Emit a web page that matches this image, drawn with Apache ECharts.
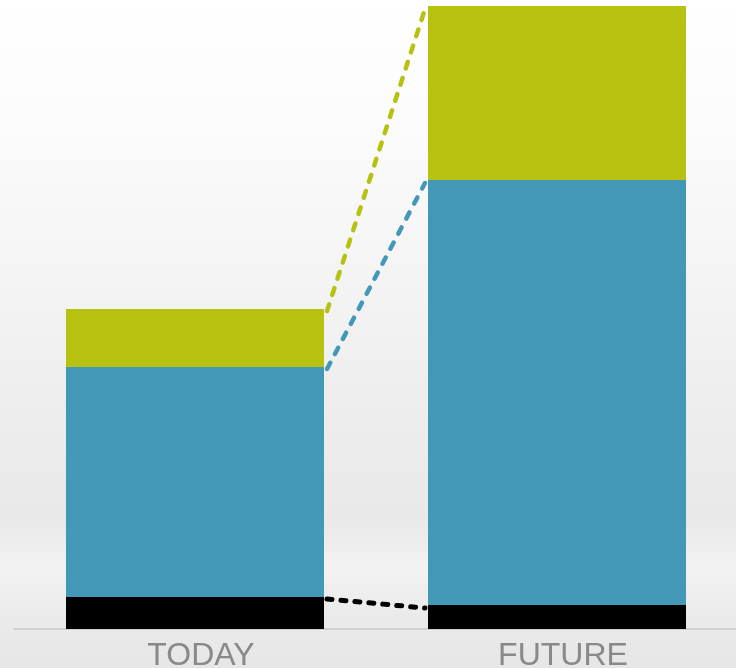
<!DOCTYPE html>
<html>
<head>
<meta charset="utf-8">
<script src="https://cdn.jsdelivr.net/npm/echarts@6/dist/echarts.min.js"></script>
<style>
html,body{margin:0;padding:0;}
body{width:736px;height:668px;background:linear-gradient(to bottom,#ffffff 0%,#fbfbfb 20%,#f3f3f3 45%,#ececec 65%,#e9e9e9 78%,#f2f2f2 85%,#ebebeb 92%,#e6e6e6 100%);}
#chart{width:736px;height:668px;}
</style>
</head>
<body>
<div id="chart"></div>
<script>
var categories = ['TODAY', 'FUTURE'];
var baseValues = [32, 24];
var midValues = [230, 425];
var topValues = [58, 174];

var colors = { base: '#000000', mid: '#4398b7', top: '#b7c110' };

var chart = echarts.init(document.getElementById('chart'));
var BAR_W = 258;

function cum(level, i) {
  var s = baseValues[i];
  if (level >= 1) s += midValues[i];
  if (level >= 2) s += topValues[i];
  return s;
}
var connectorData = [0, 1, 2].map(function (lv) { return [lv, cum(lv, 0), cum(lv, 1)]; });
var connectorStyles = [
  { color: colors.base, width: 5, dash: [5, 9] },
  { color: colors.mid, width: 4.5, dash: [7, 10] },
  { color: colors.top, width: 4.5, dash: [7, 10] }
];

chart.setOption({
  animation: false,
  grid: { left: 14, right: -2, top: 6, bottom: 39, outerBoundsMode: 'none', containLabel: false },
  xAxis: {
    type: 'category',
    data: categories,
    axisLine: { show: true, lineStyle: { color: '#d0d0d0', width: 2 } },
    axisTick: { show: false },
    axisLabel: { color: '#898989', fontSize: 32, fontFamily: 'Liberation Sans, Arial, sans-serif', margin: 11, padding: [0, 0, 0, 12] }
  },
  yAxis: { type: 'value', min: 0, max: 623, show: false, splitLine: { show: false } },
  series: [
    { type: 'bar', stack: 's', data: baseValues, barWidth: BAR_W, itemStyle: { color: colors.base } },
    { type: 'bar', stack: 's', data: midValues, barWidth: BAR_W, itemStyle: { color: colors.mid } },
    { type: 'bar', stack: 's', data: topValues, barWidth: BAR_W, itemStyle: { color: colors.top } },
    {
      type: 'custom',
      data: connectorData,
      z: 5,
      renderItem: function (params, api) {
        var lv = api.value(0);
        var p1 = api.coord([0, api.value(1)]);
        var p2 = api.coord([1, api.value(2)]);
        var st = connectorStyles[lv];
        return {
          type: 'line',
          shape: { x1: p1[0] + BAR_W / 2 + 3, y1: p1[1] + 2, x2: p2[0] - BAR_W / 2 - 3, y2: p2[1] + 3 },
          style: { stroke: st.color, lineWidth: st.width, lineDash: st.dash, lineCap: 'round' }
        };
      }
    }
  ]
});
</script>
</body>
</html>
